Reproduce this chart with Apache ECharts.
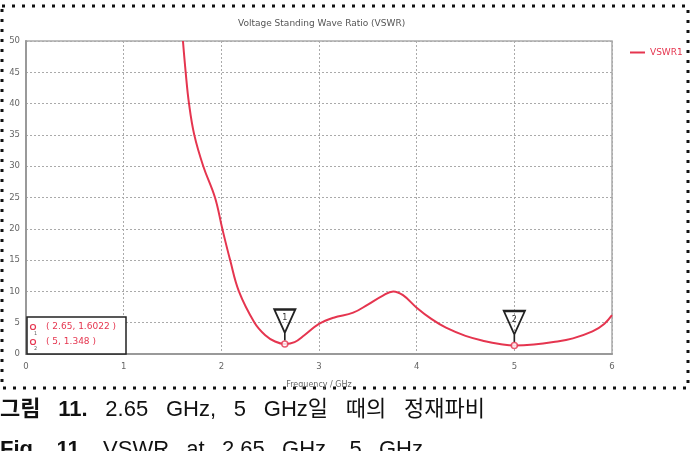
<!DOCTYPE html>
<html>
<head>
<meta charset="utf-8">
<script src="https://cdn.jsdelivr.net/npm/echarts@6/dist/echarts.min.js"></script>
<style>
  html, body { margin: 0; padding: 0; background: #fff; }
  #main { width: 695px; height: 451px; }
</style>
</head>
<body>
<div id="main"></div>
<script>
// 주파수(GHz) / VSWR 값
var freq = [1.607, 1.635, 1.669, 1.723, 1.815, 1.935, 2.01, 2.09, 2.18, 2.34, 2.45, 2.55, 2.65,
            2.75, 2.85, 3.00, 3.15, 3.35, 3.50, 3.65, 3.76, 3.86, 4.00, 4.15, 4.30, 4.50, 4.70,
            4.85, 5.00, 5.20, 5.40, 5.60, 5.80, 5.92, 6.00];
var vswr = [50, 45, 40, 35, 30, 25, 20, 15, 10, 5, 3.0, 2.0, 1.6022,
            1.9, 3.0, 4.8, 5.8, 6.6, 7.9, 9.3, 10.0, 9.4, 7.4, 5.6, 4.2, 2.9, 2.05,
            1.6, 1.348, 1.5, 1.9, 2.5, 3.6, 4.8, 6.2];
// 마커
var markerNames = ['1', '2'];
var markerX = [2.65, 5];
var markerY = [1.6022, 1.348];
var xTicks = [0, 1, 2, 3, 4, 5, 6];
var yTicks = [0, 5, 10, 15, 20, 25, 30, 35, 40, 45, 50];
// 캡션 (단어, 굵게 여부)
var caption1 = [['그림', true], ['11.', true], ['2.65', false], ['GHz,', false], ['5', false],
                ['GHz일', false], ['때의', false], ['정재파비', false]];
var caption2 = [['Fig.', true], ['11.', true], ['VSWR', false], ['at', false], ['2.65', false],
                ['GHz,', false], ['5', false], ['GHz', false]];

var red = '#e5354f';
var smallFont = 'DejaVu Sans';
var capFamily = '"Liberation Sans", "Noto Sans CJK KR", sans-serif';

var lineData = freq.map(function (f, i) { return [f, vswr[i]]; });
var markerData = markerX.map(function (x, i) { return [x, markerY[i]]; });

// 양쪽 정렬 캡션 만들기
var ctx = document.createElement('canvas').getContext('2d');
function justify(words, y, width, size) {
    var widths = words.map(function (w) {
        ctx.font = (w[1] ? 'bold ' : '') + size + 'px ' + capFamily;
        return ctx.measureText(w[0]).width;
    });
    var total = widths.reduce(function (a, b) { return a + b; }, 0);
    var gap = (width - total) / (words.length - 1);
    var x = 0, out = [];
    words.forEach(function (w, i) {
        out.push({ type: 'text', x: x, y: y, silent: true,
            style: { text: w[0], fill: '#111', verticalAlign: 'middle',
                     font: (w[1] ? 'bold ' : '') + size + 'px ' + capFamily } });
        x += widths[i] + gap;
    });
    return out;
}

var chart = echarts.init(document.getElementById('main'));

var graphics = [
    // 점선 테두리
    { type: 'rect', shape: { x: 2, y: 6, width: 686, height: 382 },
      style: { fill: 'none', stroke: '#111', lineWidth: 3, lineDash: [3, 7] }, silent: true },
    // 마커 정보 상자
    { type: 'rect', shape: { x: 27, y: 317, width: 99, height: 37 },
      style: { fill: '#fff', stroke: '#222', lineWidth: 1.5 }, z: 10 }
];
markerX.forEach(function (mx, i) {
    var cy = 327 + i * 15;
    graphics.push(
        { type: 'circle', shape: { cx: 33, cy: cy, r: 2.5 }, z: 11,
          style: { fill: '#fff', stroke: red, lineWidth: 1.2 } },
        { type: 'text', x: 34, y: cy + 7, z: 11,
          style: { text: markerNames[i], fill: '#666', font: '5px "DejaVu Sans"', verticalAlign: 'middle' } },
        { type: 'text', x: 46, y: cy, z: 11,
          style: { text: '( ' + mx + ', ' + markerY[i] + ' )', fill: red,
                   font: '9px "DejaVu Sans"', verticalAlign: 'middle' } }
    );
});
graphics = graphics.concat(justify(caption1, 410, 485, 22), justify(caption2, 450, 423, 22));

var option = {
    animation: false,
    title: {
        text: 'Voltage Standing Wave Ratio (VSWR)',
        left: 233, top: 14,
        textStyle: { fontFamily: smallFont, fontSize: 9, fontWeight: 'normal', color: '#555' }
    },
    legend: {
        data: ['VSWR1'],
        left: 625, top: 43,
        icon: 'rect', itemWidth: 15, itemHeight: 2, itemGap: 10,
        textStyle: { fontFamily: smallFont, fontSize: 9, color: red }
    },
    grid: {
        left: 26, right: 83, top: 41, bottom: 97,
        show: true, borderColor: '#aaa', borderWidth: 1.5
    },
    xAxis: {
        type: 'value', min: 0, max: 6, interval: 1,
        name: 'Frequency / GHz', nameLocation: 'middle', nameGap: 27,
        nameTextStyle: { fontFamily: smallFont, fontSize: 8, color: '#666' },
        axisLine: { show: true, lineStyle: { color: '#999', width: 2 } },
        axisTick: { show: false },
        axisLabel: { fontFamily: smallFont, fontSize: 8.5, color: '#666', margin: 8,
            formatter: function (v) { return xTicks.indexOf(v) >= 0 ? String(v) : ''; } },
        splitLine: { show: true, lineStyle: { color: '#aaa', type: [2, 2], width: 1 } }
    },
    yAxis: {
        type: 'value', min: 0, max: 50, interval: 5,
        axisLine: { show: true, lineStyle: { color: '#999', width: 2 } },
        axisTick: { show: false },
        axisLabel: { fontFamily: smallFont, fontSize: 8.5, color: '#666', margin: 6,
            formatter: function (v) { return yTicks.indexOf(v) >= 0 ? String(v) : ''; } },
        splitLine: { show: true, lineStyle: { color: '#aaa', type: [2, 2], width: 1 } }
    },
    series: [
        {
            name: 'VSWR1', type: 'line', data: lineData,
            smooth: 0.4, showSymbol: false, symbol: 'none', clip: true,
            lineStyle: { color: red, width: 2 },
            itemStyle: { color: red }
        },
        {
            name: 'markers', type: 'scatter', data: markerData,
            symbol: 'circle', symbolSize: 6,
            itemStyle: { color: '#fff', borderColor: red, borderWidth: 1.5 },
            z: 5,
            markPoint: {
                symbol: 'path://M0,0 L22,0 L11,24 Z M11,24 L11,32',
                symbolSize: [21, 31],
                symbolOffset: [0, -19],
                itemStyle: { color: 'rgba(255,255,255,0)', borderColor: '#222', borderWidth: 2 },
                label: { show: true, position: 'inside', offset: [0, -7],
                    fontFamily: smallFont, fontSize: 8, color: '#333',
                    formatter: function (p) { return p.name; } },
                data: markerData.map(function (d, i) {
                    return { name: markerNames[i], coord: d };
                })
            }
        }
    ],
    graphic: graphics
};

chart.setOption(option);
</script>
</body>
</html>
